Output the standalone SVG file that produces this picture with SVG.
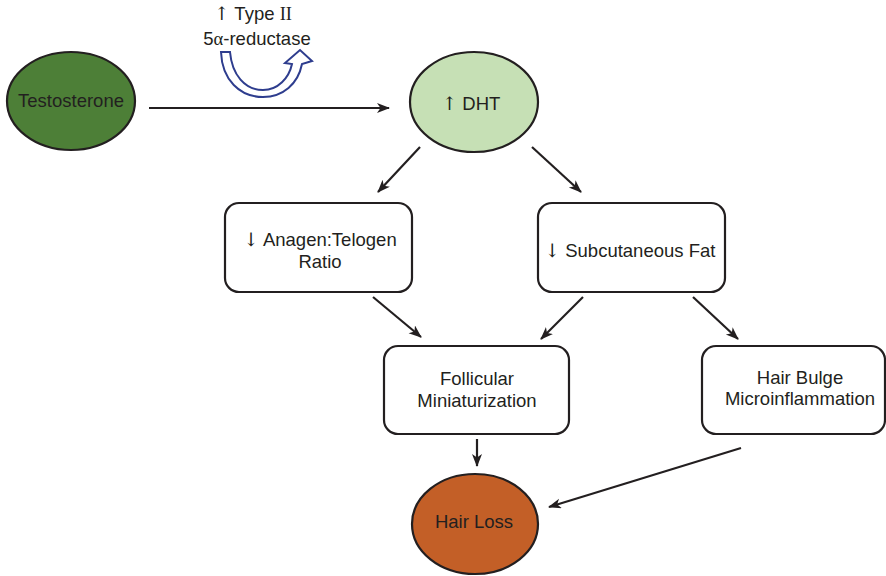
<svg xmlns="http://www.w3.org/2000/svg" width="886" height="576" viewBox="0 0 886 576">
<defs>
<style>
.t{font-family:"Liberation Sans",Arial,sans-serif;font-size:18.5px;fill:#231f20;text-anchor:middle}
.s{font-family:"Liberation Serif","Times New Roman",serif}
.a{font-family:"DejaVu Serif","Liberation Serif",serif;font-weight:normal}
.box{fill:#fff;stroke:#231f20;stroke-width:2.2}
.ell{stroke:#231f20;stroke-width:2.2}
.c{stroke:#231f20;stroke-width:2.2;fill:none;marker-end:url(#ah)}
</style>
<marker id="ah" markerUnits="userSpaceOnUse" markerWidth="14" markerHeight="12" refX="12" refY="5" orient="auto">
<path d="M0,0 L13,5 L0,10 L3.5,5 Z" fill="#231f20"/>
</marker>
</defs>
<rect width="886" height="576" fill="#fff"/>

<g id="connectors">
<line class="c" x1="149" y1="108" x2="389" y2="108"/>
<line class="c" x1="420" y1="147" x2="378" y2="192"/>
<line class="c" x1="532" y1="147" x2="581" y2="192"/>
<line class="c" x1="373" y1="297" x2="421" y2="337"/>
<line class="c" x1="583" y1="297" x2="541" y2="339"/>
<line class="c" x1="693" y1="297" x2="738" y2="339"/>
<line class="c" x1="477" y1="439" x2="477" y2="466"/>
<line class="c" x1="741" y1="448" x2="549" y2="507"/>
</g>

<g id="enzyme">
<text class="t" x="253" y="20"><tspan class="a">↑</tspan> Type <tspan class="s">II</tspan></text>
<text class="t" x="257" y="45">5<tspan class="s">α</tspan>-reductase</text>
<path d="M221,52 L230,52 C232,75 245,90 263,90 C278,90 289,78 292,64 L285,63 L300,50 L312,61 L302,64 C298,84 283,97 263,97 C240,97 222,80 221,52 Z" fill="#fff" stroke="#2e3d8e" stroke-width="2" stroke-linejoin="miter"/>
</g>

<g id="testosterone">
<ellipse class="ell" cx="71" cy="101" rx="64" ry="49" fill="#4d7f37"/>
<text class="t" x="71" y="107">Testosterone</text>
</g>

<g id="dht">
<ellipse class="ell" cx="474" cy="102" rx="64" ry="50" fill="#c6e0b5"/>
<text class="t" x="471" y="110"><tspan class="a">↑</tspan> DHT</text>
</g>

<g id="anagen">
<rect class="box" x="225" y="203" width="187" height="89" rx="14"/>
<text class="t" x="320" y="246"><tspan class="a">↓</tspan> Anagen:Telogen</text>
<text class="t" x="320" y="268">Ratio</text>
</g>

<g id="subcutaneous">
<rect class="box" x="538" y="203" width="187" height="89" rx="14"/>
<text class="t" x="630" y="257"><tspan class="a">↓</tspan> Subcutaneous Fat</text>
</g>

<g id="follicular">
<rect class="box" x="384" y="346" width="185" height="88" rx="14"/>
<text class="t" x="477" y="385">Follicular</text>
<text class="t" x="477" y="407">Miniaturization</text>
</g>

<g id="bulge">
<rect class="box" x="702" y="346" width="183" height="88" rx="14"/>
<text class="t" x="800" y="384">Hair Bulge</text>
<text class="t" x="800" y="405">Microinflammation</text>
</g>

<g id="hairloss">
<ellipse class="ell" cx="475" cy="524" rx="63" ry="50" fill="#c35f27"/>
<text class="t" x="474" y="528">Hair Loss</text>
</g>
</svg>
